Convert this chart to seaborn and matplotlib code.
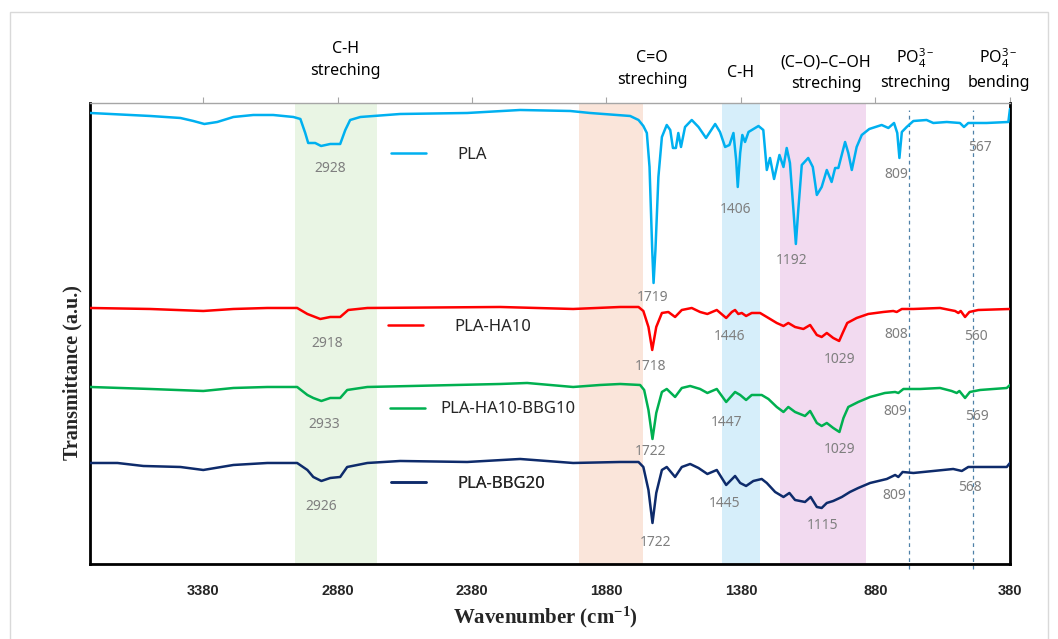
import matplotlib
matplotlib.use("Agg")
import matplotlib.pyplot as plt
from matplotlib.patches import Rectangle
import pandas as pd
import seaborn as sns

sns.set_style("white")
plt.rcParams["font.family"] = ["Noto Sans", "DejaVu Sans"]

# --- spectra (wavenumber cm-1, transmittance a.u.) ---
pla_wn = [3799, 3576, 3464, 3416, 3375, 3327, 3267, 3193, 3119, 3044, 3018, 3000, 2989, 2963, 2941,
          2907, 2870, 2851, 2833, 2795, 2647, 2398, 2201, 2015, 1941, 1792, 1761, 1743, 1730, 1720,
          1710, 1705, 1698, 1687, 1674, 1656, 1643, 1633, 1622, 1613, 1603, 1588, 1563, 1538, 1510,
          1476, 1458, 1439, 1423, 1408, 1398, 1392, 1383, 1375, 1365, 1352, 1315, 1297, 1284, 1272,
          1257, 1237, 1222, 1210, 1198, 1185, 1176, 1167, 1154, 1130, 1113, 1098, 1080, 1061, 1043,
          1030, 1018, 993, 981, 968, 950, 931, 903, 857, 832, 811, 799, 791, 782, 764,
          739, 690, 665, 615, 566, 551, 535, 467, 386, 380]
pla_t = [451, 448, 446, 443, 440, 442, 447, 449, 449, 447, 445, 431, 421, 421, 418,
         420, 420, 434, 444, 447, 450, 451, 454, 453, 451, 448, 444, 438, 431, 397,
         314, 281, 314, 387, 427, 439, 434, 416, 416, 431, 417, 437, 444, 437, 426,
         440, 432, 417, 419, 431, 404, 377, 411, 429, 422, 432, 438, 434, 394, 406,
         385, 409, 397, 416, 401, 354, 320, 354, 399, 406, 397, 369, 377, 394, 382,
         396, 396, 422, 411, 394, 417, 429, 435, 439, 436, 441, 431, 406, 432, 437,
         443, 444, 441, 442, 441, 437, 441, 441, 442, 455]

ha10_wn = [3799, 3576, 3379, 3267, 3141, 3030, 2992, 2944, 2907, 2870, 2840, 2769, 2275, 2004, 1829,
           1761, 1743, 1724, 1710, 1695, 1674, 1650, 1625, 1600, 1563, 1532, 1505, 1470, 1435, 1414,
           1402, 1390, 1377, 1361, 1340, 1309, 1284, 1247, 1222, 1204, 1179, 1148, 1123, 1098, 1080,
           1061, 1037, 1015, 1002, 985, 950, 907, 851, 814, 801, 782, 739, 640, 603, 584,
           572, 563, 547, 531, 498, 380]
ha10_t = [256, 255, 253, 255, 256, 256, 250, 245, 247, 247, 254, 256, 257, 255, 257,
          257, 253, 237, 214, 237, 251, 252, 247, 254, 256, 252, 250, 254, 246, 252,
          254, 250, 251, 248, 251, 251, 247, 241, 238, 241, 237, 235, 239, 229, 227,
          231, 226, 223, 231, 241, 246, 250, 252, 253, 252, 255, 255, 256, 254, 253,
          251, 253, 247, 252, 254, 255]

bbg10_wn = [3799, 3576, 3379, 3267, 3141, 3030, 2992, 2970, 2940, 2907, 2870, 2844, 2769, 2275, 2175,
            2004, 1904, 1829, 1755, 1740, 1724, 1709, 1695, 1674, 1656, 1625, 1600, 1569, 1532, 1505,
            1470, 1435, 1402, 1383, 1361, 1340, 1303, 1278, 1247, 1222, 1204, 1179, 1142, 1123, 1098,
            1080, 1061, 1037, 1014, 999, 981, 944, 900, 845, 807, 795, 776, 714, 640, 597,
            578, 568, 547, 529, 491, 392, 380]
bbg10_t = [177, 175, 173, 176, 177, 177, 169, 166, 163, 166, 166, 174, 177, 180, 181,
           177, 179, 180, 179, 174, 154, 125, 151, 172, 175, 167, 176, 178, 175, 171,
           175, 162, 172, 169, 164, 169, 169, 165, 157, 152, 157, 152, 148, 153, 141,
           138, 141, 136, 132, 146, 157, 162, 167, 171, 172, 171, 175, 175, 176, 173,
           171, 173, 166, 172, 174, 176, 179]

bbg20_wn = [3799, 3698, 3602, 3464, 3379, 3267, 3141, 3030, 2992, 2970, 2940, 2907, 2870, 2844, 2769,
            2647, 2398, 2201, 2004, 1829, 1761, 1743, 1724, 1709, 1695, 1674, 1656, 1625, 1600, 1569,
            1538, 1505, 1470, 1435, 1402, 1383, 1361, 1334, 1303, 1284, 1253, 1222, 1200, 1179, 1142,
            1121, 1098, 1080, 1061, 1037, 1005, 975, 944, 900, 838, 807, 795, 779, 739, 665,
            591, 559, 535, 392, 380]
bbg20_t = [101, 101, 98, 97, 94, 99, 101, 101, 94, 87, 83, 86, 87, 97, 101,
           103, 102, 105, 101, 102, 102, 97, 74, 41, 71, 94, 97, 87, 97, 100,
           96, 90, 94, 79, 88, 81, 78, 83, 85, 81, 72, 67, 71, 64, 62,
           67, 57, 56, 61, 63, 67, 72, 76, 81, 85, 89, 87, 92, 91, 93,
           95, 93, 97, 97, 101]

samples = ["PLA", "PLA-HA10", "PLA-HA10-BBG10", "PLA-BBG20"]
colors = ["#00B0F0", "#FF0000", "#00B050", "#0E2B6B"]
spectra = {"PLA": (pla_wn, pla_t), "PLA-HA10": (ha10_wn, ha10_t),
           "PLA-HA10-BBG10": (bbg10_wn, bbg10_t), "PLA-BBG20": (bbg20_wn, bbg20_t)}

x_ticks = [3380, 2880, 2380, 1880, 1380, 880, 380]

# assignment bands and reference lines
band_edges = [(3039, 2732), (1982, 1745), (1451, 1308), (1236, 915)]
band_colors = ["#E9F5E4", "#FAE5DA", "#D6EEFA", "#F2DAF0"]
ref_lines = [756, 516]

groups = ["C-H\nstreching", "C=O\nstreching", "C-H", "(C\u2013O)\u2013C\u2013OH\nstreching",
          "PO$\\mathregular{_4^{3-}}$\nstreching", "PO$\\mathregular{_4^{3-}}$\nbending"]
group_pos = [(2851, 504), (1711, 495), (1381, 491), (1064, 491), (733, 495), (423, 495)]

peaks = [("2928", 2907, 395), ("1719", 1709, 266), ("1406", 1399, 354), ("1192", 1191, 303),
         ("809", 804, 389), ("567", 491, 416),
         ("2918", 2919, 220), ("1718", 1715, 197), ("1446", 1424, 227), ("1029", 1015, 204),
         ("808", 801, 229), ("560", 506, 227),
         ("2933", 2929, 139), ("1722", 1715, 112), ("1447", 1432, 141), ("1029", 1015, 114),
         ("809", 807, 152), ("569", 503, 147),
         ("2926", 2940, 57), ("1722", 1697, 21), ("1445", 1442, 60), ("1115", 1076, 38),
         ("809", 810, 68), ("568", 527, 76)]

# legend anchors (axes fraction) and text gaps
legend_anchor = [(0.327, 0.887), (0.324, 0.514), (0.326, 0.335), (0.327, 0.173)]
legend_gap = [1.9, 1.9, 0.95, 1.9]

fig = plt.figure(figsize=(10.58, 6.39), dpi=100)
ax = fig.add_axes([0.0851, 0.1174, 0.8695, 0.7219])

for (lo, hi), c in zip(band_edges, band_colors):
    ax.axvspan(hi, lo, color=c, lw=0, zorder=0)
for w in ref_lines:
    ax.axvline(w, ymin=-0.01, ymax=0.985, color="#4F81A8", lw=0.9, ls=(0, (3, 3)),
               clip_on=False, zorder=1)

handles = []
for name, c in zip(samples, colors):
    wn, t = spectra[name]
    df = pd.DataFrame({"wavenumber": wn, "transmittance": t})
    sns.lineplot(data=df, x="wavenumber", y="transmittance", color=c, lw=1.8,
                 sort=False, estimator=None, ax=ax, zorder=3)
    ax.lines[-1].set_solid_joinstyle("round")
    handles.append(ax.lines[-1])

for txt, w, y in peaks:
    ax.text(w, y, txt, ha="center", va="center", fontsize=10, color="#7F7F7F", zorder=4)

for txt, (w, y) in zip(groups, group_pos):
    ax.text(w, y, txt, ha="center", va="center", fontsize=11.5, color="black",
            linespacing=1.45, clip_on=False)

for h, name, anc, gap in zip(handles, samples, legend_anchor, legend_gap):
    leg = ax.legend([h], [name], loc="center left", bbox_to_anchor=anc, frameon=False,
                    fontsize=12, handlelength=2.1, handletextpad=gap, borderpad=0,
                    borderaxespad=0)
    ax.add_artist(leg)

ax.set_xlim(3800, 380)
ax.set_ylim(0, 461.3)
ax.set_xticks(x_ticks)
ax.set_xticklabels([str(v) for v in x_ticks], fontsize=10.5, fontweight="bold",
                   family="Liberation Sans")
ax.set_yticks([])
ax.tick_params(axis="x", top=True, bottom=False, labeltop=False, labelbottom=True,
               length=4, width=0.8, color="#A6A6A6", direction="out", pad=10.5)

for side in ["left", "bottom", "right"]:
    ax.spines[side].set_color("black")
    ax.spines[side].set_linewidth(2)
ax.spines["top"].set_color("#A6A6A6")
ax.spines["top"].set_linewidth(1)

ax.set_xlabel("Wavenumber (cm$\\mathregular{^{-1}}$)", fontsize=15, fontweight="bold",
              family="Liberation Serif")
ax.xaxis.set_label_coords(0.4946, -0.089)
ax.set_ylabel("Transmittance (a.u.)", fontsize=14.5, fontweight="bold", family="Liberation Serif")
ax.yaxis.set_label_coords(-0.008, 0.416)

fig.patches.append(Rectangle((10 / 1058, -0.1), 1038 / 1058, 1.1 - 12 / 639,
                             transform=fig.transFigure, fill=False, edgecolor="#D9D9D9", lw=1))

fig.savefig("out.png", dpi=100)
